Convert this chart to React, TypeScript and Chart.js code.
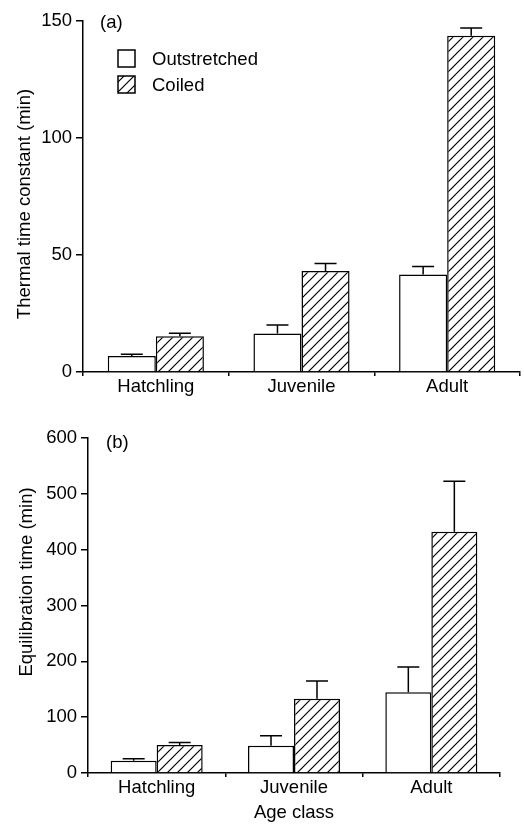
import React, { useEffect, useRef } from 'react';
import { Chart, registerables } from 'chart.js';

Chart.register(...registerables);

// ---- data ----
const categories = ['Hatchling', 'Juvenile', 'Adult'];
const seriesNames = ['Outstretched', 'Coiled'];

const thermalOutstretched = [6.8, 16.5, 41.7];
const thermalOutstretchedErr = [0.8, 3.6, 3.4];
const thermalCoiled = [15.3, 43.2, 143.7];
const thermalCoiledErr = [1.3, 3.2, 3.3];
const thermalTicks = [0, 50, 100, 150];

const equilOutstretched = [22, 49, 144.5];
const equilOutstretchedErr = [3.6, 17.8, 45.5];
const equilCoiled = [50, 133, 432];
const equilCoiledErr = [4.8, 32, 90.6];
const equilTicks = [0, 100, 200, 300, 400, 500, 600];

// ---- style ----
const FONT = '"Liberation Sans", Arial, Helvetica, sans-serif';
const INK = '#000000';
const FS = 18.5;

function makeHatch(): CanvasPattern | string {
  const c = document.createElement('canvas');
  const n = 10;
  c.width = n;
  c.height = n;
  const g = c.getContext('2d');
  if (!g) return '#ffffff';
  g.fillStyle = '#ffffff';
  g.fillRect(0, 0, n, n);
  g.strokeStyle = INK;
  g.lineWidth = 1.2;
  g.beginPath();
  g.moveTo(-1, n + 1);
  g.lineTo(n + 1, -1);
  g.moveTo(-1, 1);
  g.lineTo(1, -1);
  g.moveTo(n - 1, n + 1);
  g.lineTo(n + 1, n - 1);
  g.stroke();
  return g.createPattern(c, 'repeat') || '#ffffff';
}

const decorPlugin = {
  id: 'decor',
  afterDatasetsDraw(chart: any, _args: any, opts: any) {
    const ctx = chart.ctx as CanvasRenderingContext2D;
    const yScale = chart.scales.y;
    ctx.save();
    // error bars
    ctx.strokeStyle = INK;
    ctx.lineWidth = 1.5;
    chart.data.datasets.forEach((ds: any, i: number) => {
      const meta = chart.getDatasetMeta(i);
      meta.data.forEach((bar: any, j: number) => {
        const top = yScale.getPixelForValue(ds.data[j] + ds.errors[j]);
        const half = opts.cap;
        ctx.beginPath();
        ctx.moveTo(bar.x, bar.y);
        ctx.lineTo(bar.x, top);
        ctx.moveTo(bar.x - half, top);
        ctx.lineTo(bar.x + half, top);
        ctx.stroke();
      });
    });
    ctx.fillStyle = INK;
    ctx.font = `${FS}px ${FONT}`;
    // panel label
    ctx.textBaseline = 'middle';
    ctx.textAlign = 'left';
    ctx.fillText(opts.label, opts.labelX, opts.labelY);
    // y-axis title
    ctx.save();
    ctx.translate(opts.titleX, opts.titleY);
    ctx.rotate(-Math.PI / 2);
    ctx.textAlign = 'center';
    ctx.textBaseline = 'middle';
    ctx.fillText(opts.title, 0, 0);
    ctx.restore();
    // legend
    if (opts.legend) {
      const lg = opts.legend;
      chart.data.datasets.forEach((ds: any, i: number) => {
        const bx = lg.x;
        const by = lg.y + i * lg.step;
        ctx.fillStyle = ds.backgroundColor;
        ctx.fillRect(bx, by, lg.box, lg.box);
        ctx.strokeStyle = INK;
        ctx.lineWidth = 1.5;
        ctx.strokeRect(bx, by, lg.box, lg.box);
        ctx.fillStyle = INK;
        ctx.textAlign = 'left';
        ctx.textBaseline = 'middle';
        ctx.fillText(ds.label, lg.textX, by + lg.box / 2 + 1);
      });
    }
    ctx.restore();
  },
};

type PanelProps = {
  top: number;
  height: number;
  outVals: number[];
  outErr: number[];
  coilVals: number[];
  coilErr: number[];
  ticks: number[];
  yAxisWidth: number;
  xAxisHeight: number;
  padTop: number;
  padRight: number;
  catPct: number;
  label: string;
  labelX: number;
  labelY: number;
  title: string;
  titleX: number;
  titleY: number;
  xTitle?: string;
  legend?: boolean;
};

function Panel(p: PanelProps) {
  const ref = useRef<HTMLCanvasElement | null>(null);
  useEffect(() => {
    if (!ref.current) return;
    const hatch = makeHatch();
    const chart = new Chart(ref.current, {
      type: 'bar',
      data: {
        labels: categories,
        datasets: [
          {
            label: seriesNames[0],
            data: p.outVals,
            errors: p.outErr,
            backgroundColor: '#ffffff',
            borderColor: INK,
            borderWidth: 1.5,
            categoryPercentage: p.catPct,
            barPercentage: 1,
          } as any,
          {
            label: seriesNames[1],
            data: p.coilVals,
            errors: p.coilErr,
            backgroundColor: hatch,
            borderColor: INK,
            borderWidth: 1.5,
            categoryPercentage: p.catPct,
            barPercentage: 1,
          } as any,
        ],
      },
      options: {
        animation: false,
        responsive: false,
        maintainAspectRatio: false,
        devicePixelRatio: 1,
        layout: { padding: { left: 0, top: p.padTop, right: p.padRight, bottom: 0 } },
        plugins: {
          legend: { display: false },
          tooltip: { enabled: false },
          decor: {
            cap: 11,
            label: p.label,
            labelX: p.labelX,
            labelY: p.labelY,
            title: p.title,
            titleX: p.titleX,
            titleY: p.titleY,
            legend: p.legend ? { x: 118, y: 50, step: 26, box: 17, textX: 152 } : null,
          },
        } as any,
        scales: {
          x: {
            afterFit: (s: any) => {
              s.height = p.xAxisHeight;
            },
            ticks: { color: INK, font: { family: FONT, size: FS }, padding: 0, maxRotation: 0 },
            grid: {
              display: true,
              drawOnChartArea: false,
              drawTicks: true,
              tickLength: 4,
              color: INK,
              lineWidth: 1.5,
              offset: true,
            },
            border: { display: true, color: INK, width: 1.5 },
            title: {
              display: !!p.xTitle,
              text: p.xTitle || '',
              color: INK,
              font: { family: FONT, size: FS },
              padding: 0,
            },
          },
          y: {
            min: p.ticks[0],
            max: p.ticks[p.ticks.length - 1],
            afterFit: (s: any) => {
              s.width = p.yAxisWidth;
            },
            afterBuildTicks: (s: any) => {
              s.ticks = p.ticks.map((v) => ({ value: v }));
            },
            ticks: { color: INK, font: { family: FONT, size: FS }, padding: 4 },
            grid: {
              display: true,
              drawOnChartArea: false,
              drawTicks: true,
              tickLength: 7,
              color: INK,
              lineWidth: 1.5,
            },
            border: { display: true, color: INK, width: 1.5 },
          },
        },
      },
      plugins: [decorPlugin],
    } as any);
    return () => chart.destroy();
  }, []);
  return (
    <canvas
      ref={ref}
      width={524}
      height={p.height}
      style={{ position: 'absolute', left: 0, top: p.top, width: 524, height: p.height }}
    />
  );
}

export default function App() {
  return (
    <div
      style={{
        position: 'absolute',
        left: 0,
        top: 0,
        width: 524,
        height: 824,
        background: '#ffffff',
        overflow: 'hidden',
      }}
    >
      <Panel
        top={0}
        height={400}
        outVals={thermalOutstretched}
        outErr={thermalOutstretchedErr}
        coilVals={thermalCoiled}
        coilErr={thermalCoiledErr}
        ticks={thermalTicks}
        yAxisWidth={83}
        xAxisHeight={28}
        padTop={21}
        padRight={4}
        catPct={0.66}
        label="(a)"
        labelX={100}
        labelY={23}
        title="Thermal time constant (min)"
        titleX={25}
        titleY={204}
        legend
      />
      <Panel
        top={400}
        height={424}
        outVals={equilOutstretched}
        outErr={equilOutstretchedErr}
        coilVals={equilCoiled}
        coilErr={equilCoiledErr}
        ticks={equilTicks}
        yAxisWidth={88}
        xAxisHeight={51}
        padTop={38}
        padRight={24}
        catPct={0.67}
        label="(b)"
        labelX={106}
        labelY={43}
        title="Equilibration time (min)"
        titleX={27}
        titleY={182}
        xTitle="Age class"
      />
    </div>
  );
}
